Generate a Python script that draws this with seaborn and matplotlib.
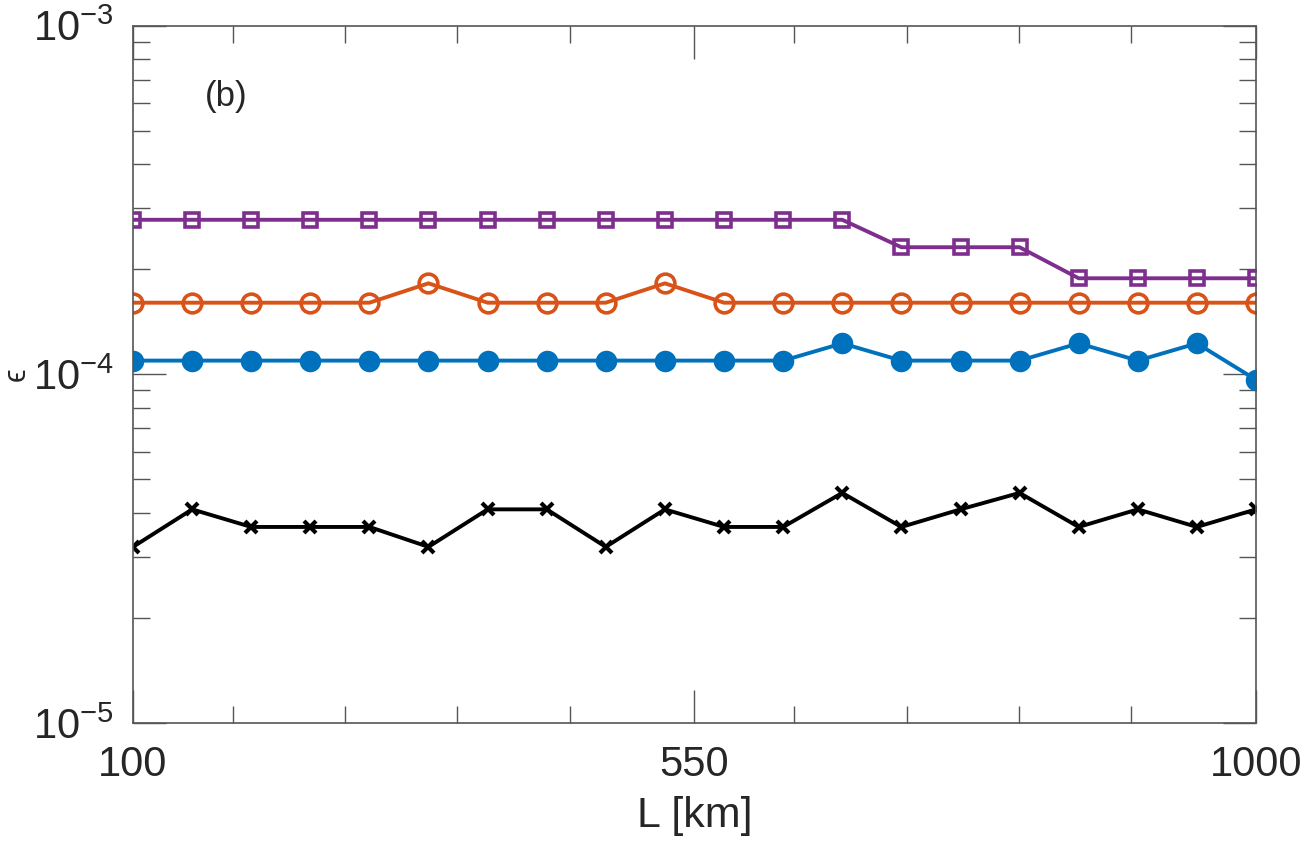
import numpy as np
import pandas as pd
import matplotlib
matplotlib.use("Agg")
import matplotlib.pyplot as plt
import matplotlib.ticker as mticker
import seaborn as sns

# L [km], 20 equally spaced lengths
L_km = [100.0, 147.4, 194.7, 242.1, 289.5, 336.8, 384.2, 431.6, 478.9, 526.3,
        573.7, 621.1, 668.4, 715.8, 763.2, 810.5, 857.9, 905.3, 952.6, 1000.0]

eps_black = [3.20e-5, 4.10e-5, 3.65e-5, 3.65e-5, 3.65e-5, 3.20e-5, 4.10e-5, 4.10e-5, 3.20e-5, 4.10e-5,
             3.65e-5, 3.65e-5, 4.57e-5, 3.65e-5, 4.10e-5, 4.57e-5, 3.65e-5, 4.10e-5, 3.65e-5, 4.10e-5]
eps_blue = [1.095e-4] * 12 + [1.227e-4, 1.095e-4, 1.095e-4, 1.095e-4, 1.227e-4, 1.095e-4, 1.227e-4, 0.965e-4]
eps_orange = [1.605e-4] * 5 + [1.824e-4] + [1.605e-4] * 3 + [1.824e-4] + [1.605e-4] * 10
eps_purple = [2.775e-4] * 13 + [2.315e-4] * 3 + [1.886e-4] * 4

x_ticks = [100, 550, 1000]
x_minor = [180, 270, 360, 450, 630, 720, 810, 900]
y_ticks = [1e-5, 1e-4, 1e-3]
y_labels = ["$10^{-5}$", "$10^{-4}$", "$10^{-3}$"]

sns.set_style("white")
plt.rcParams["font.family"] = ["Liberation Sans", "DejaVu Sans"]
plt.rcParams["mathtext.fontset"] = "custom"
plt.rcParams["mathtext.rm"] = "Liberation Sans"
plt.rcParams["mathtext.it"] = "Liberation Sans:italic"
plt.rcParams["axes.unicode_minus"] = False

txt = "#262626"
axc = "#555555"
lw = 2.8

fig = plt.figure(figsize=(13.09, 8.5), dpi=100)
ax = fig.add_axes([0.1016, 0.1494, 0.8579, 0.8204])

df = pd.DataFrame({"L": L_km, "black": eps_black, "blue": eps_blue,
                   "orange": eps_orange, "purple": eps_purple})

sns.lineplot(data=df, x="L", y="black", ax=ax, color="black", linewidth=lw,
             marker="x", markersize=9, markeredgewidth=3, markeredgecolor="black")
sns.lineplot(data=df, x="L", y="blue", ax=ax, color="#0072BD", linewidth=lw,
             marker="o", markersize=15.5, markeredgewidth=0)
sns.lineplot(data=df, x="L", y="orange", ax=ax, color="#D95319", linewidth=lw,
             marker="o", markersize=13.5, markerfacecolor="none",
             markeredgecolor="#D95319", markeredgewidth=2.6)
sns.lineplot(data=df, x="L", y="purple", ax=ax, color="#7E2F8E", linewidth=lw,
             marker="s", markersize=10, markerfacecolor="none",
             markeredgecolor="#7E2F8E", markeredgewidth=2.6)

ax.set_yscale("log")
ax.set_xlim(100, 1000)
ax.set_ylim(1e-5, 1e-3)
ax.xaxis.set_major_locator(mticker.FixedLocator(x_ticks))
ax.xaxis.set_minor_locator(mticker.FixedLocator(x_minor))
ax.yaxis.set_major_locator(mticker.FixedLocator(y_ticks))
ax.set_yticklabels(y_labels)
ax.yaxis.set_minor_locator(mticker.LogLocator(base=10, subs=np.arange(2, 10), numticks=20))
ax.yaxis.set_minor_formatter(mticker.NullFormatter())

ax.tick_params(which="both", direction="in", top=True, right=True,
               bottom=True, left=True,
               color=axc, width=1, labelcolor=txt, labelsize=30)
ax.tick_params(which="major", length=24)
ax.tick_params(which="minor", length=12)
ax.tick_params(axis="x", pad=16)
ax.tick_params(axis="y", pad=14)

for s in ax.spines.values():
    s.set_color(axc)
    s.set_linewidth(1.2)

ax.set_xlabel("L [km]", fontsize=31, color=txt, labelpad=8)
ax.set_ylabel("ϵ", fontsize=22, color=txt)
ax.yaxis.set_label_coords(-0.09, 0.5)

ax.text(0.064, 0.898, "(b)", transform=ax.transAxes, fontsize=25,
        color=txt, va="center", ha="left")

fig.savefig("out.png", dpi=100)
